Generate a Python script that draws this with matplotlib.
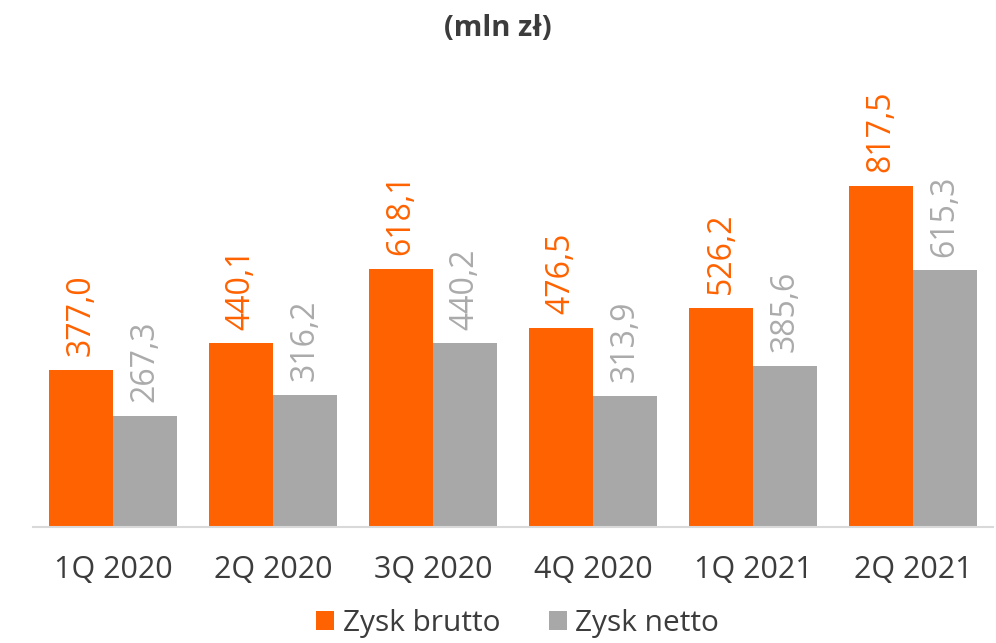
import matplotlib
matplotlib.use("Agg")
import matplotlib.pyplot as plt
import numpy as np

categories = ["1Q 2020", "2Q 2020", "3Q 2020", "4Q 2020", "1Q 2021", "2Q 2021"]
zysk_brutto = [377.0, 440.1, 618.1, 476.5, 526.2, 817.5]
zysk_netto = [267.3, 316.2, 440.2, 313.9, 385.6, 615.3]
series_names = ["Zysk brutto", "Zysk netto"]
title = "(mln zł)"

orange = "#FF6200"
grey = "#A8A8A8"
label_grey = "#ABABAB"
text_dark = "#3C3C3C"

plt.rcParams['font.family'] = ['Open Sans', 'DejaVu Sans']

fig = plt.figure(figsize=(9.96, 6.43), dpi=100)
ax = fig.add_axes([33/996, (643-527)/643, 960/996, 417/643])

x = np.arange(len(categories))
w = 0.4
b1 = ax.bar(x - w/2, zysk_brutto, w, color=orange, label=series_names[0])
b2 = ax.bar(x + w/2, zysk_netto, w, color=grey, label=series_names[1])

def fmt(v):
    return f"{v:.1f}".replace(".", ",")

for rects, vals, col in [(b1, zysk_brutto, orange), (b2, zysk_netto, label_grey)]:
    for r, v in zip(rects, vals):
        ax.annotate(fmt(v), (r.get_x() + r.get_width()/2, v),
                    xytext=(0, 10), textcoords="offset points",
                    rotation=90, ha="center", va="bottom",
                    fontsize=23, color=col)

ax.set_xlim(-0.5, len(categories) - 0.5)
ax.set_ylim(0, 1000)
ax.set_xticks(x)
ax.set_xticklabels(categories, fontsize=22, color=text_dark)
ax.tick_params(axis="x", length=0, pad=20)
ax.set_yticks([])
for s in ["top", "right", "left"]:
    ax.spines[s].set_visible(False)
ax.spines["bottom"].set_color("#D9D9D9")
ax.spines["bottom"].set_linewidth(1.5)

fig.text(0.5, 1 - 28/643, title, ha="center", va="center",
         fontsize=21, fontweight="bold", color=text_dark)

fig.legend(handles=[b1, b2], labels=series_names, loc="center",
           bbox_to_anchor=(0.52, 1 - 624/643), ncol=2, frameon=False,
           fontsize=21.5, handlelength=0.6, handleheight=0.6,
           handletextpad=0.3, columnspacing=1.6,
           labelcolor=text_dark)

fig.savefig("out.png", dpi=100)
